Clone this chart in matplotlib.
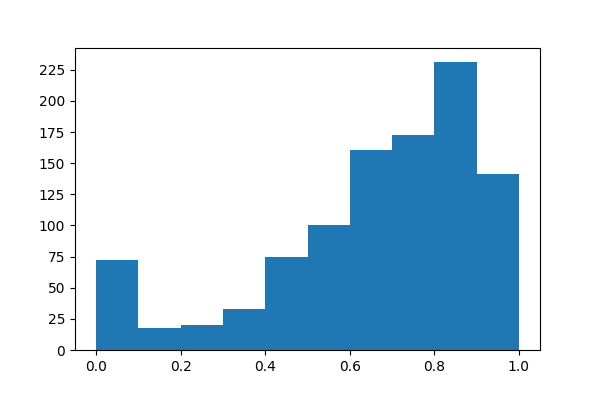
import numpy as np
from matplotlib import pyplot as plt

bin_edges = [0.0, 0.1, 0.2, 0.3, 0.4, 0.5, 0.6, 0.7, 0.8, 0.9, 1.0]
counts = [72, 18, 20, 33, 75, 100, 161, 173, 231, 141]


def plot_hist(edges, heights):
    fig, ax = plt.subplots(figsize=(6, 4), dpi=100)
    fig.subplots_adjust(left=0.125, right=0.9, bottom=0.125, top=0.88)
    edges = np.array(edges)
    ax.bar(edges[:-1], heights, width=np.diff(edges), align='edge',
           color='#1f77b4', linewidth=0)
    ax.set_yticks(np.arange(0, 226, 25))
    ax.set_xticks(np.arange(0, 1.01, 0.2))
    fig.savefig('out.png')


plot_hist(bin_edges, counts)
